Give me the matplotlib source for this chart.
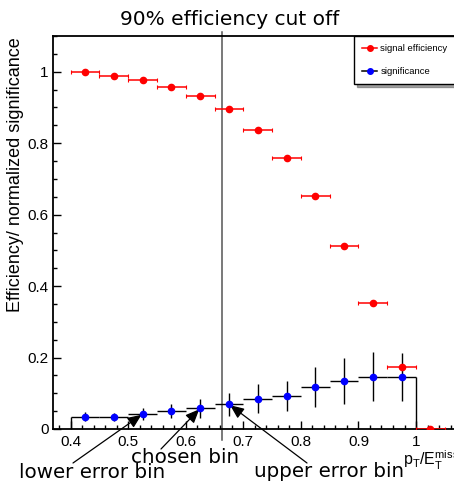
import numpy as np
import matplotlib
matplotlib.use('Agg')
import matplotlib.pyplot as plt
from matplotlib.lines import Line2D
from matplotlib.ticker import MultipleLocator, FormatStrFormatter

plt.rcParams['font.family'] = ['Liberation Sans', 'DejaVu Sans']
plt.rcParams['mathtext.default'] = 'regular'

# bins of p_T / E_T^miss (width 0.05)
bin_centers = [0.425, 0.475, 0.525, 0.575, 0.625, 0.675, 0.725, 0.775, 0.825, 0.875, 0.925, 0.975, 1.025]
bin_half = 0.025

# signal efficiency per bin
efficiency = [1.0, 0.989, 0.976, 0.957, 0.933, 0.895, 0.838, 0.759, 0.653, 0.512, 0.352, 0.174, 0.0]

# normalized significance per bin (last bin empty)
significance = [0.034, 0.033, 0.042, 0.051, 0.058, 0.069, 0.085, 0.092, 0.118, 0.135, 0.146, 0.146]
significance_err = [0.013, 0.012, 0.018, 0.020, 0.027, 0.032, 0.040, 0.042, 0.056, 0.064, 0.069, 0.068]

cut_value = 0.663

# which bins the arrows point at
lower_bin, chosen_bin, upper_bin = 2, 4, 5

W, H = 454, 482
fig = plt.figure(figsize=(W / 100, H / 100), dpi=100)
ax = fig.add_axes([53 / W, 53 / H, (W - 53) / W, 393 / H])

sig_x = bin_centers[:len(significance)]

# significance: black error bars, blue markers, outline at the first/last edges
ax.errorbar(sig_x, significance, xerr=bin_half, yerr=significance_err, fmt='none',
            ecolor='black', elinewidth=1.0, zorder=2)
ax.vlines([sig_x[0] - bin_half, sig_x[-1] + bin_half], 0, [significance[0], significance[-1]],
          color='black', lw=1.0, zorder=2)
ax.plot(sig_x, significance, 'o', color='blue', ms=4.5, zorder=4)

# signal efficiency
ax.errorbar(bin_centers, efficiency, xerr=bin_half, fmt='o', color='red', ms=4.5,
            elinewidth=1.1, capsize=1.5, capthick=0.8, zorder=3)

# cut line
ax.plot([cut_value, cut_value], [-0.03, 1.11], color='#555555', lw=1.1, clip_on=False, zorder=1)

ax.set_xlim(0.3692, 1.066)
ax.set_ylim(0, 1.1)
ax.xaxis.set_major_locator(MultipleLocator(0.1))
ax.xaxis.set_minor_locator(MultipleLocator(0.02))
ax.yaxis.set_major_locator(MultipleLocator(0.2))
ax.yaxis.set_minor_locator(MultipleLocator(0.05))
ax.xaxis.set_major_formatter(FormatStrFormatter('%g'))
ax.yaxis.set_major_formatter(FormatStrFormatter('%g'))
ax.tick_params(which='both', direction='in', labelsize=11, width=1)
ax.tick_params(which='major', length=6)
ax.tick_params(which='minor', length=3)
ax.tick_params(axis='x', pad=4)
ax.tick_params(axis='y', pad=3)
ax.spines['right'].set_visible(False)
for s in ['left', 'bottom', 'top']:
    ax.spines[s].set_linewidth(1.3)

ax.set_ylabel('Efficiency/ normalized significance', fontsize=13)
ax.yaxis.set_label_coords(-29 / 401, (429 - 175) / 393)

fig.text(230 / W, 457 / H, '90% efficiency cut off', family='DejaVu Sans', fontsize=14.5,
         ha='center', va='baseline')
fig.text(403 / W, 17 / H, r'$\mathregular{p_{T}/E_{T}^{miss}}$', fontsize=11.5,
         ha='left', va='baseline')

# annotations
labels = [('lower error bin', lower_bin, (19, 4), (73, 19)),
          ('chosen bin', chosen_bin, (131, 19), (161, 33)),
          ('upper error bin', upper_bin, (254, 5), (307, 19))]
for text, b, tpos, tail in labels:
    fig.text(tpos[0] / W, tpos[1] / H, text, family='DejaVu Sans', fontsize=14.3,
             ha='left', va='baseline')
    ax.annotate('', xy=(sig_x[b], significance[b]), xycoords='data',
                xytext=(tail[0] / W, tail[1] / H), textcoords='figure fraction',
                arrowprops=dict(arrowstyle='-|>,head_length=0.7,head_width=0.3',
                                color='black', lw=0.9, shrinkA=0, shrinkB=1,
                                mutation_scale=12), annotation_clip=False)

handles = [Line2D([], [], color='red', marker='o', ms=4, lw=1.1),
           Line2D([], [], color='black', marker='o', mfc='blue', mec='blue', ms=4, lw=1.1)]
leg = ax.legend(handles, ['signal efficiency', 'significance'], loc='upper left',
                bbox_to_anchor=(354 / W, 446 / H), bbox_transform=fig.transFigure,
                fontsize=6.8, frameon=True, fancybox=False, shadow=True,
                borderaxespad=0, borderpad=0.85, labelspacing=1.5,
                handlelength=1.6, handletextpad=0.35)
leg.get_frame().set_edgecolor('black')
leg.get_frame().set_linewidth(1.0)

fig.savefig('out.png', dpi=100)
